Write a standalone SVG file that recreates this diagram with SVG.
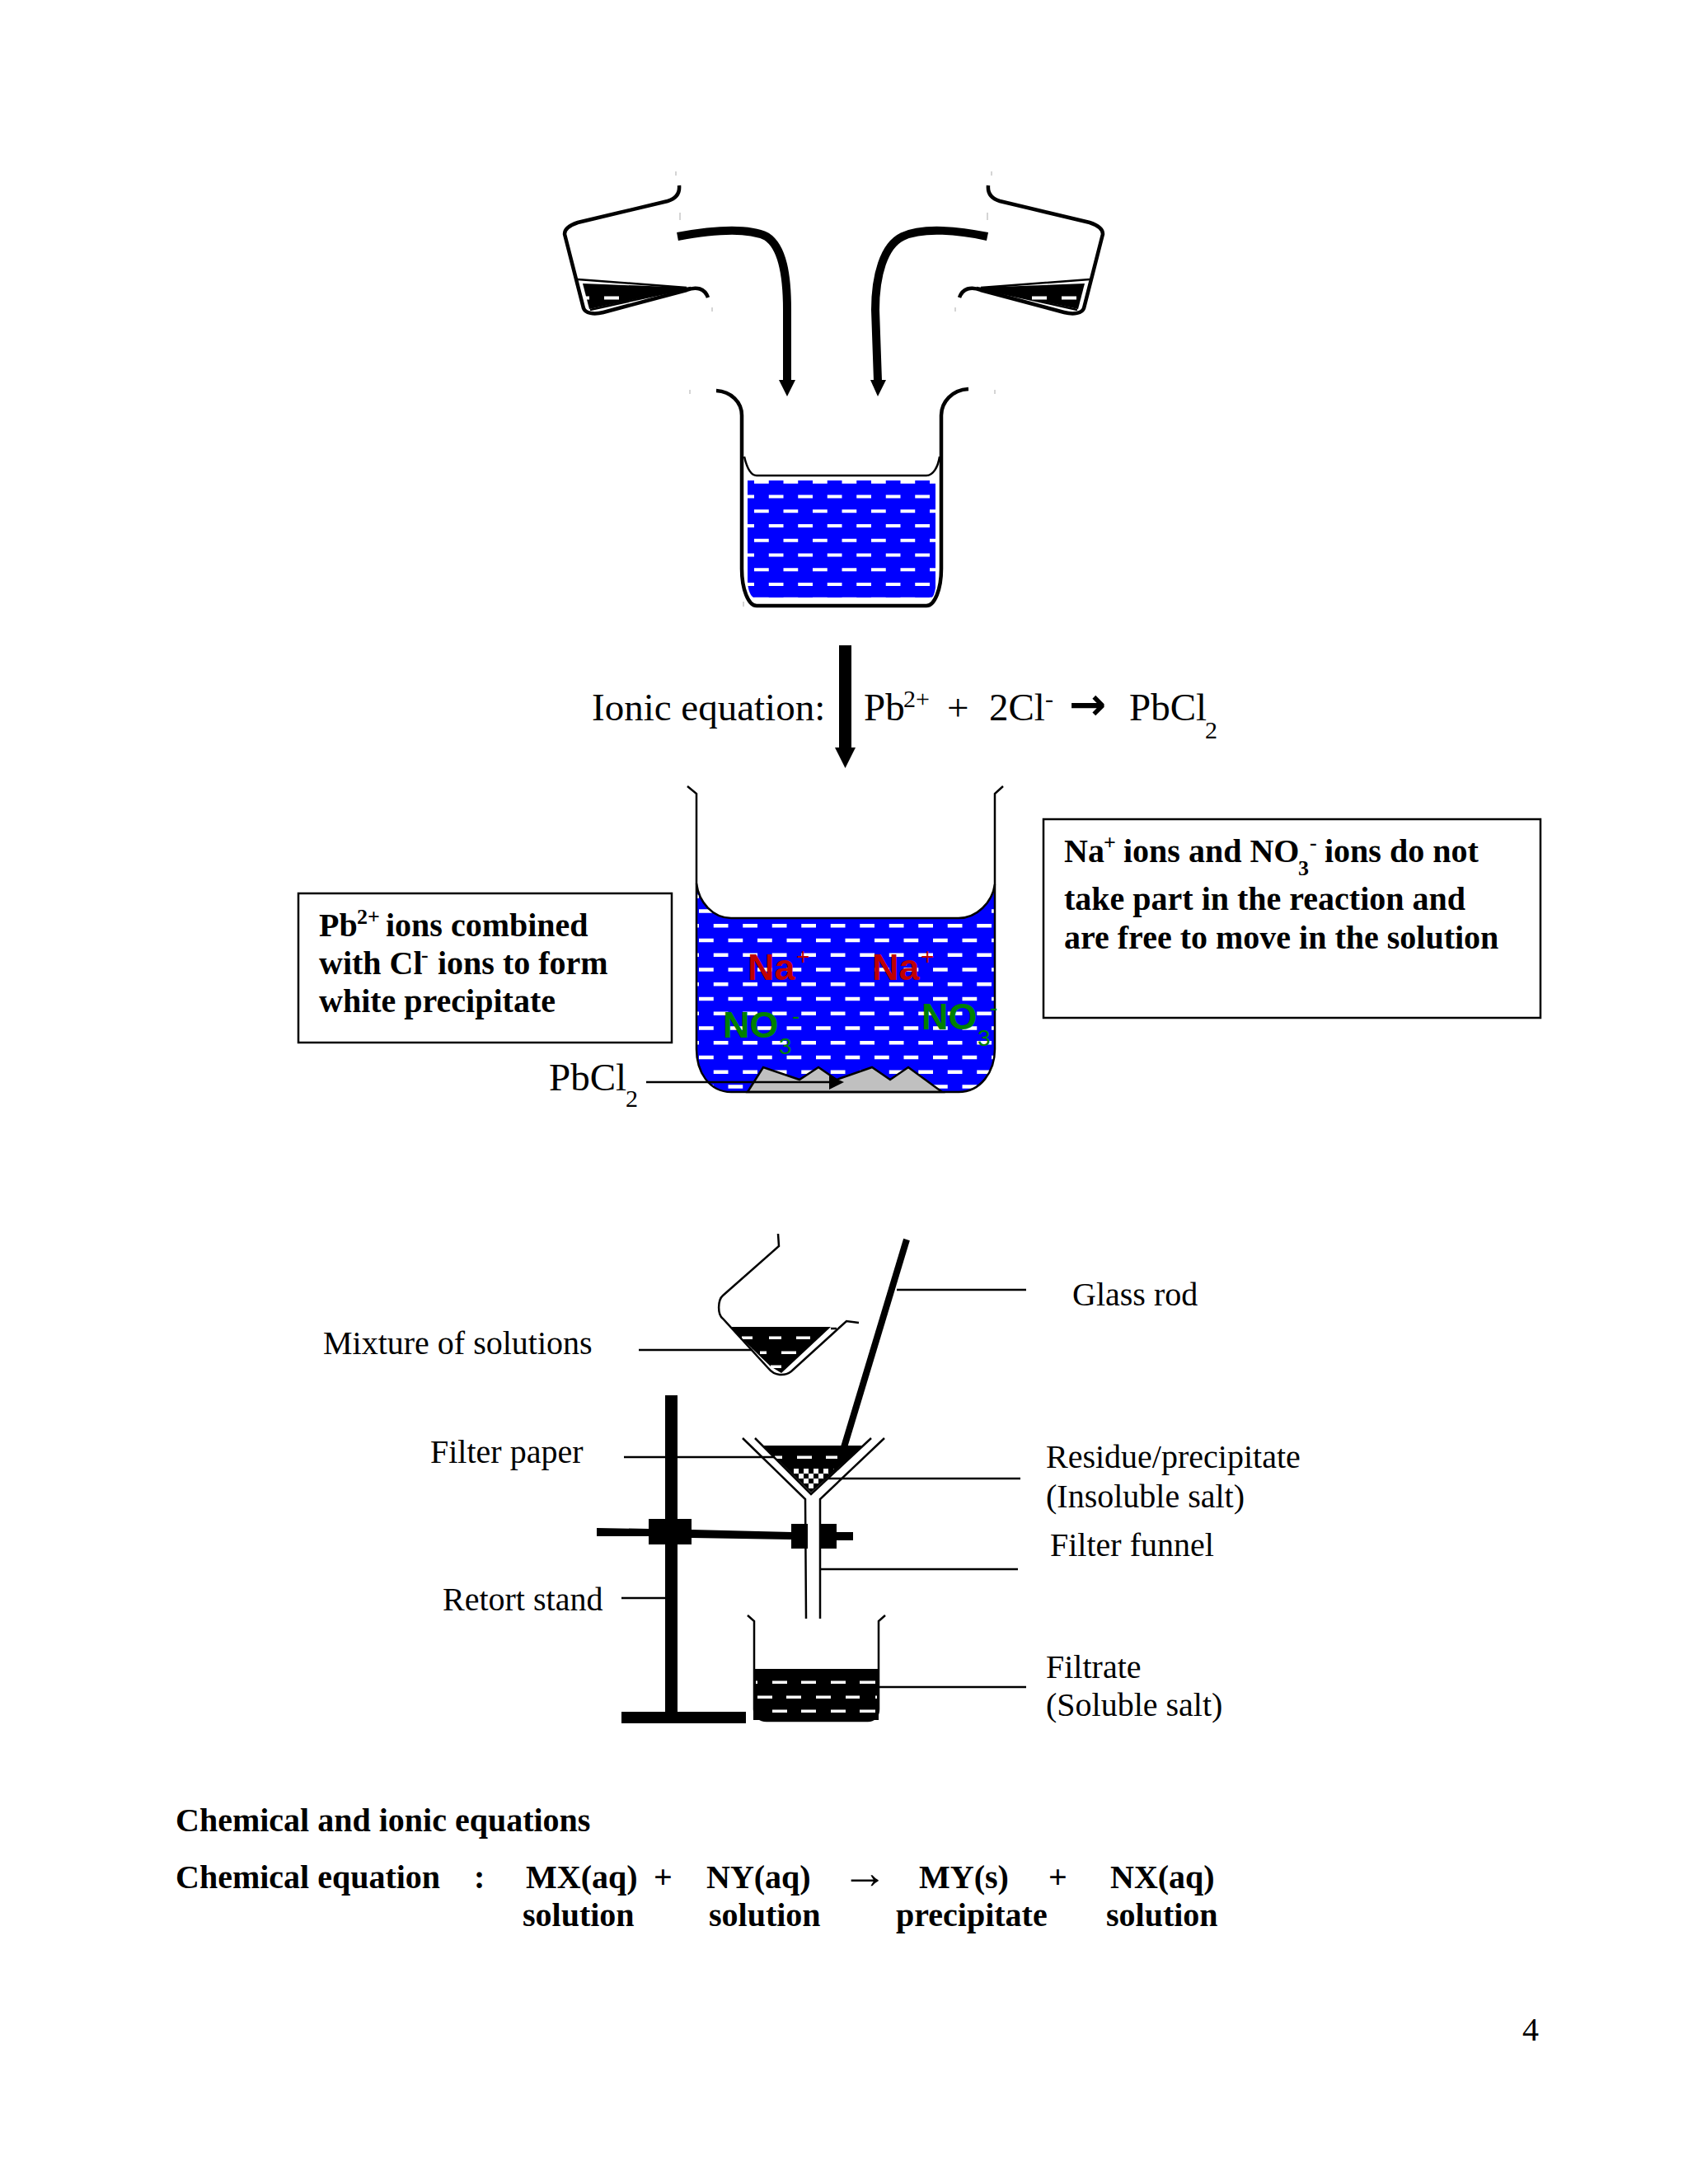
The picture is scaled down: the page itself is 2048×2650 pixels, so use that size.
<svg xmlns="http://www.w3.org/2000/svg" width="2048" height="2650" viewBox="0 0 2048 2650">
<style>
text{font-family:"Liberation Serif","Times New Roman",serif;font-size:40px;fill:#000}
.b{font-weight:bold}
.big{font-size:47px}
.sup{font-size:26px}
.bs{font-size:30px}
.ion{font-family:"Liberation Sans",Arial,sans-serif;font-weight:bold;font-size:45px}
.ions{font-family:"Liberation Sans",Arial,sans-serif;font-size:28px}
.red{fill:#c00000}
.grn{fill:#008000}
.o{fill:none;stroke:#000;stroke-width:4.5}
.t{fill:none;stroke:#000;stroke-width:2.5}
.l{fill:none;stroke:#000;stroke-width:2.5}
.k{fill:#000}
.w{fill:#fff}
.tick{stroke:#aaa;stroke-width:1;fill:none}
.box{fill:#fff;stroke:#000;stroke-width:2.5}
</style>
<defs>
<pattern id="water1" patternUnits="userSpaceOnUse" x="915" y="600" width="71" height="71">
<rect width="71" height="71" fill="#0000ff"/>
<path fill="#fff" d="M17.750,0.500h17.750v4h-17.750zM53.250,0.500h17.750v4h-17.750zM17.750,36h17.750v4h-17.750zM53.250,36h17.750v4h-17.750zM0,18.250h17.750v4h-17.750zM35.500,18.250h17.750v4h-17.750zM0,53.750h17.750v4h-17.750zM35.500,53.750h17.750v4h-17.750z"/>
</pattern>
<pattern id="water2" patternUnits="userSpaceOnUse" x="848" y="1121" width="71" height="71">
<rect width="71" height="71" fill="#0000ff"/>
<path fill="#fff" d="M17.750,0h17.750v4.500h-17.750zM53.250,0h17.750v4.500h-17.750zM17.750,35.500h17.750v4.500h-17.750zM53.250,35.500h17.750v4.500h-17.750zM0,17.750h17.750v4.500h-17.750zM35.500,17.750h17.750v4.500h-17.750zM0,53.250h17.750v4.500h-17.750zM35.500,53.250h17.750v4.500h-17.750z"/>
</pattern>
<pattern id="check" patternUnits="userSpaceOnUse" x="957" y="1782" width="12" height="12">
<rect width="12" height="12" fill="#fff"/>
<rect width="6" height="6" fill="#000"/>
<rect x="6" y="6" width="6" height="6" fill="#000"/>
</pattern>
<g id="pour">
<path class="o" d="M824,225 C825,235 820,241 810,244 L701,270 C692,273 685,278 685,284 L708,374 C710,380 720,382 732,379 L833,352 C845,347 855,350 859,361"/>
<path class="t" d="M701,339 L833,349 M716,376 L838,349"/>
<path class="k" d="M707,344 L838,349 L715,375 Z"/>
<path class="tick" d="M820,208V213M825,258V267M864,373V378"/>
</g>
</defs>
<rect width="2048" height="2650" fill="#fff"/>

<g id="beaker-pour-left">
<use href="#pour"/>
<path class="w" d="M710,359.500h5v4h-5zM733,359.500h18v4h-18z"/>
</g>
<g id="beaker-pour-right">
<use href="#pour" transform="translate(2023,0) scale(-1,1)"/>
<path class="w" d="M1252,359.500h18v4h-18zM1288,359.500h18v4h-18z"/>
</g>

<g id="beaker-top">
<path fill="url(#water1)" d="M907,583 H1135 V713 C1134,720 1132,725 1130,725 H915 C911,725 907,715 907,705 Z"/>
<path class="o" d="M869,474 C887,475 900,488 900,504 L900,690 C900,715 908,735 918,735 L1124,735 C1134,735 1142,715 1142,690 L1142,504 C1142,488 1155,473 1175,472"/>
<path class="t" d="M903,554 C906,567 911,577 918,577 L1124,577 C1132,577 1138,567 1140,554"/>
<path class="tick" d="M837,473V478M1207,473V478M902,730V736"/>
</g>

<g id="ionic-equation">
<text class="big" y="874"><tspan x="718">Ionic equation:</tspan><tspan x="1048">Pb</tspan><tspan x="1149">+</tspan><tspan x="1200">2Cl</tspan><tspan x="1370">PbCl</tspan></text>
<text class="bs" x="1096" y="858">2+</text>
<text class="bs" x="1268" y="858">-</text>
<text class="bs" x="1462" y="896">2</text>
<text x="1297" y="873" style="font-family:'DejaVu Sans',sans-serif;font-size:54px;font-weight:bold">→</text>
</g>

<g id="beaker-precipitate">
<path fill="url(#water2)" d="M845,1072 C848,1095 865,1114 887,1114 L1163,1114 C1185,1114 1204,1095 1207,1073 L1207,1273 C1207,1300 1190,1325 1163,1325 L887,1325 C860,1325 845,1300 845,1273 Z"/>
<path fill="#c0c0c0" stroke="#000" stroke-width="2.500" d="M907,1325 L926,1295 L970,1310 L993,1295 L1015,1310 L1058,1295 L1080,1310 L1102,1295 L1143,1325 Z"/>
<path class="t" d="M834,954 L845,963 L845,1273 C845,1300 860,1325 887,1325 L1163,1325 C1190,1325 1207,1300 1207,1273 L1207,963 L1217,954"/>
<path class="t" d="M845,1072 C848,1095 865,1114 887,1114 L1163,1114 C1185,1114 1204,1095 1207,1073"/>
<text class="ion red" x="907" y="1189">Na</text><text class="ions red" x="966" y="1170">+</text>
<text class="ion red" x="1058" y="1189">Na</text><text class="ions red" x="1117" y="1170">+</text>
<text class="ion grn" x="877" y="1259">NO</text><text class="ions grn" x="945" y="1279">3</text><text class="ions grn" x="961" y="1242">-</text>
<text class="ion grn" x="1118" y="1249">NO</text><text class="ions grn" x="1186" y="1269">3</text><text class="ions grn" x="1201" y="1232">-</text>
</g>

<g id="label-pbcl2">
<text class="big" x="666" y="1323">PbCl</text><text class="bs" x="759" y="1343">2</text>
</g>

<g id="box-left">
<rect class="box" x="362" y="1084" width="453" height="181"/>
<text class="b" x="387" y="1136">Pb</text><text class="b sup" x="433" y="1121">2+</text><text class="b" x="468" y="1136">ions combined</text>
<text class="b" x="387" y="1182">with Cl</text><text class="b sup" x="511" y="1167">-</text><text class="b" x="531" y="1182">ions to form</text>
<text class="b" x="387" y="1228">white precipitate</text>
</g>

<g id="box-right">
<rect class="box" x="1266" y="994" width="603" height="241"/>
<text class="b" x="1291" y="1046">Na</text><text class="b sup" x="1339" y="1031">+</text><text class="b" x="1363" y="1046">ions and NO</text><text class="b sup" x="1575" y="1062">3</text><text class="b sup" x="1589" y="1031">-</text><text class="b" x="1607" y="1046">ions do not</text>
<text class="b" x="1291" y="1104">take part in the reaction and</text>
<text class="b" x="1291" y="1151">are free to move in the solution</text>
</g>

<g id="beaker-mixture">
<path class="k" d="M885,1610 H1008 L948,1666 L935,1658 Z"/>
<path class="w" d="M900,1621.500h13v3.500h-13zM933,1621.500h15v3.500h-15zM966,1621.500h17v3.500h-17zM922,1639.500h8v3.500h-8zM948,1639.500h18v3.500h-18zM935,1656.500h13v3.500h-13z"/>
<path class="t" d="M944,1497 L945,1512 L877,1572 C871,1577 870,1595 877,1600 L932,1660 C940,1670 952,1670 960,1664 L1027,1603 L1042,1605"/>
<path class="t" d="M1008,1612 H1015"/>
</g>

<g id="retort-stand">
<rect class="k" x="807" y="1693" width="15" height="385"/>
<rect class="k" x="754" y="2077" width="151" height="14"/>
<path class="k" d="M724,1854 L787,1855 V1843 H839 V1856 L960,1859 V1849 H980 V1879 H960 V1868 L839,1866 V1874 H787 V1864 L724,1864 Z"/>
<rect class="k" x="995" y="1849" width="20" height="30"/>
<rect class="k" x="1015" y="1859" width="20" height="10"/>
</g>

<g id="glass-rod">
<path fill="none" stroke="#000" stroke-width="8" d="M1100,1504 L1024,1756"/>
</g>

<g id="funnel">
<path class="k" d="M926,1754 H1047 L984,1811 Z"/>
<path fill="url(#check)" d="M957,1782 H1012 L984,1809 Z"/>
<path class="w" d="M940,1766.500h9v3.500h-9zM967,1766.500h18v3.500h-18zM1002,1766.500h14v3.500h-14z"/>
<path class="t" d="M901,1745 L977,1819 L978,1964 M1073,1745 L995,1819 L995,1964"/>
<path class="t" d="M916,1745 L984,1813 L1057,1745"/>
</g>

<g id="beaker-filtrate">
<rect class="k" x="914" y="2025" width="152" height="62"/>
<path class="w" d="M917,2039.500h2v3.500h-2zM937,2039.500h18v3.500h-18zM972,2039.500h18v3.500h-18zM1008,2039.500h18v3.500h-18zM1043,2039.500h19v3.500h-19zM919,2057.500h18v3.500h-18zM954,2057.500h18v3.500h-18zM990,2057.500h18v3.500h-18zM1026,2057.500h17v3.500h-17zM1062,2057.500h2v3.500h-2zM937,2074.500h18v3.500h-18zM972,2074.500h18v3.500h-18zM1008,2074.500h18v3.500h-18zM1043,2074.500h19v3.500h-19z"/>
<path class="t" d="M907,1960 L915,1967 L915,2074 C915,2083 922,2088 930,2088 L1053,2088 C1060,2088 1066,2083 1066,2074 L1066,1967 L1074,1960"/>
</g>

<g id="connectors">
<path fill="none" stroke="#000" stroke-width="10" d="M822,287 C860,280 905,275 930,287 C950,300 955,335 955,376 L955,462"/>
<path class="k" d="M945,461 H965 L955,481 Z"/>
<path fill="none" stroke="#000" stroke-width="10" d="M1198,287 C1165,280 1120,275 1095,287 C1072,298 1062,335 1062,376 L1065,462"/>
<path class="k" d="M1056,461 H1075 L1065,481 Z"/>
<path class="k" d="M1018,783 H1033 V907 H1038 L1025.500,932 L1013,907 H1018 Z"/>
<path class="l" d="M784,1313 H1008"/>
<path class="k" d="M1006,1305 L1024,1313 L1006,1322 Z"/>
<path class="l" d="M1088,1565 H1245 M775,1638 H913 M757,1768 H940 M1005,1794 H1238 M996,1904 H1235 M754,1939 H807 M1066,2047 H1245"/>
</g>

<g id="labels">
<text x="1301" y="1584">Glass rod</text>
<text x="392" y="1643">Mixture of solutions</text>
<text x="522" y="1775">Filter paper</text>
<text x="1269" y="1781">Residue/precipitate</text>
<text x="1269" y="1829">(Insoluble salt)</text>
<text x="1274" y="1888">Filter funnel</text>
<text x="537" y="1954">Retort stand</text>
<text x="1269" y="2036">Filtrate</text>
<text x="1269" y="2082">(Soluble salt)</text>
</g>

<g id="equations">
<text class="b" x="213" y="2222">Chemical and ionic equations</text>
<text class="b" y="2291"><tspan x="213">Chemical equation</tspan><tspan x="575">:</tspan><tspan x="638">MX(aq)</tspan><tspan x="793">+</tspan><tspan x="857">NY(aq)</tspan><tspan x="1115">MY(s)</tspan><tspan x="1272">+</tspan><tspan x="1347">NX(aq)</tspan></text>
<text x="1021" y="2291" style="font-size:56px">→</text>
<text class="b" y="2337"><tspan x="634">solution</tspan><tspan x="860">solution</tspan><tspan x="1087">precipitate</tspan><tspan x="1342">solution</tspan></text>
<text x="1847" y="2476">4</text>
</g>
</svg>
